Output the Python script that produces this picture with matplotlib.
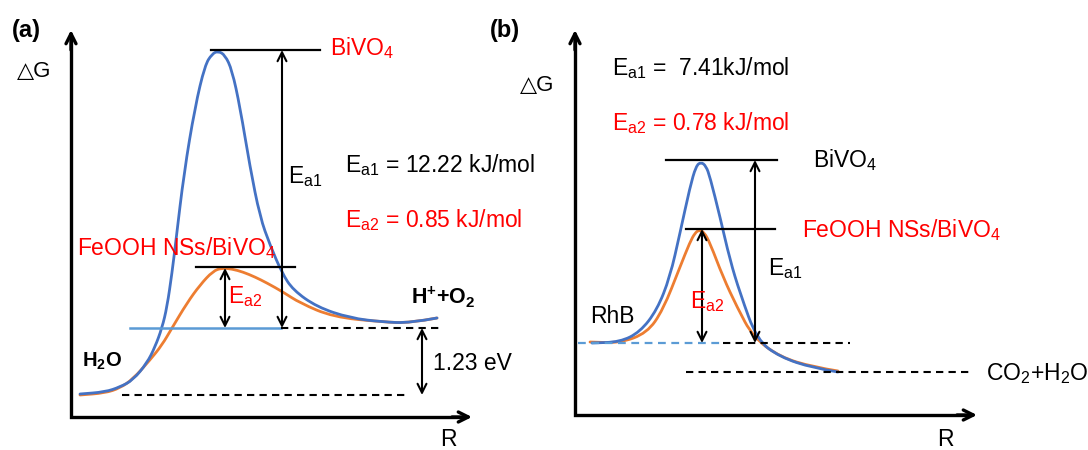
import matplotlib
matplotlib.use("Agg")
import matplotlib.pyplot as plt
from matplotlib.path import Path
from matplotlib.patches import PathPatch

plt.rcParams['font.family'] = ['Liberation Sans', 'DejaVu Sans']
plt.rcParams['mathtext.fontset'] = 'custom'
plt.rcParams['mathtext.rm'] = 'Liberation Sans'
plt.rcParams['mathtext.it'] = 'Liberation Sans:italic'
plt.rcParams['mathtext.bf'] = 'Liberation Sans:bold'

BLUE = '#4472C4'
ORANGE = '#ED7D31'
LIGHTBLUE = '#5B9BD5'
RED = '#FF0000'

# ---- panel (a) curves (pixel coords, y down) ----
a_blue_x = [80, 105, 120, 133, 147, 155, 162, 167, 172, 176, 184, 195, 205,
            212, 218, 225, 232, 240, 250, 260, 270, 282, 293, 317, 350, 383,
            410, 437]
a_blue_y = [394, 392, 387, 380, 363, 347, 328, 307, 273, 240, 173, 107, 65,
            54, 51, 55, 70, 107, 167, 217, 245, 273, 290, 307, 318, 322,
            323, 318]
a_orange_x = [80, 105, 120, 133, 150, 162, 172, 187, 200, 213, 222, 232, 243,
              255, 267, 283, 300, 333, 383, 410, 437]
a_orange_y = [395, 393, 388, 379, 360, 345, 328, 303, 285, 271, 268, 269, 272,
              277, 283, 292, 303, 317, 322, 323, 318]

# ---- panel (b) curves ----
b_blue_x = [592, 620, 640, 657, 670, 680, 690, 696, 701, 706, 710, 720, 730,
            740, 757, 780, 813, 838]
b_blue_y = [343, 342, 332, 310, 277, 233, 187, 166, 162, 166, 177, 217, 260,
            293, 340, 357, 368, 372]
b_orange_x = [590, 620, 647, 663, 680, 690, 695, 699, 704, 710, 723, 737, 753,
              780, 813, 838]
b_orange_y = [342, 343, 333, 310, 267, 242, 233, 230, 232, 243, 277, 307, 337,
              357, 367, 371]

# energy levels (a)
a_top, a_mid, a_base, a_low = 50, 267, 328, 395
# energy levels (b)
b_top, b_mid, b_base, b_low = 160, 229, 343, 372


def smooth_curve(ax, xs, ys, color):
    pts = list(zip(xs, ys))
    verts = [pts[0]]
    codes = [Path.MOVETO]
    mid = ((pts[0][0] + pts[1][0]) / 2, (pts[0][1] + pts[1][1]) / 2)
    verts.append(mid)
    codes.append(Path.LINETO)
    for i in range(1, len(pts) - 1):
        nxt = ((pts[i][0] + pts[i + 1][0]) / 2, (pts[i][1] + pts[i + 1][1]) / 2)
        if i == len(pts) - 2:
            nxt = pts[-1]
        verts += [pts[i], nxt]
        codes += [Path.CURVE3, Path.CURVE3]
    ax.add_patch(PathPatch(Path(verts, codes), facecolor='none',
                           edgecolor=color, lw=2.0, capstyle='round'))


def darrow(ax, x, y0, y1):
    ax.annotate('', xy=(x, y0), xytext=(x, y1),
                arrowprops=dict(arrowstyle='<->', lw=1.5, color='black',
                                shrinkA=0, shrinkB=0, mutation_scale=16))


def axes_arrows(ax, x0, y0, xend, ytop):
    ax.plot([x0, x0, xend - 8], [ytop + 8, y0, y0], color='black', lw=2.4,
            solid_joinstyle='miter', solid_capstyle='butt')
    ax.annotate('', xy=(x0, ytop), xytext=(x0, ytop + 20),
                arrowprops=dict(arrowstyle='->', lw=2.4, color='black',
                                shrinkA=0, shrinkB=0, mutation_scale=18))
    ax.annotate('', xy=(xend, y0), xytext=(xend - 20, y0),
                arrowprops=dict(arrowstyle='->', lw=2.4, color='black',
                                shrinkA=0, shrinkB=0, mutation_scale=18))


fig = plt.figure(figsize=(10.88, 4.5), dpi=100)
ax = fig.add_axes([0, 0, 1, 1])
ax.set_xlim(0, 1088)
ax.set_ylim(450, 0)
ax.axis('off')

dash = (0, (3.5, 2.5))
fs = 16.5

# ================= panel (a) =================
axes_arrows(ax, 71, 417, 472, 30)

ax.plot([122, 408], [a_low, a_low], color='black', lw=1.5, ls=dash)
ax.plot([130, 281], [a_base, a_base], color=LIGHTBLUE, lw=1.8)
ax.plot([281, 442], [a_base, a_base], color='black', lw=1.5, ls=dash)
ax.plot([211, 320], [a_top, a_top], color='black', lw=1.6)
ax.plot([196, 295], [a_mid, a_mid], color='black', lw=1.6)

smooth_curve(ax, a_orange_x, a_orange_y, ORANGE)
smooth_curve(ax, a_blue_x, a_blue_y, BLUE)

darrow(ax, 282, a_top, a_base)
darrow(ax, 225, a_mid + 1, a_base)
darrow(ax, 422, a_base, a_low)

ax.text(12, 37, '(a)', fontsize=17, fontweight='bold')
ax.text(17, 77, '△G', fontsize=16)
ax.text(330, 55, r'BiVO$_4$', fontsize=fs, color=RED)
ax.text(345, 172, r'E$_{\mathrm{a1}}$ = 12.22 kJ/mol', fontsize=fs)
ax.text(345, 227, r'E$_{\mathrm{a2}}$ = 0.85 kJ/mol', fontsize=fs, color=RED)
ax.text(288, 183, r'E$_{\mathrm{a1}}$', fontsize=fs)
ax.text(77, 255, r'FeOOH NSs/BiVO$_4$', fontsize=fs, color=RED)
ax.text(228, 303, r'E$_{\mathrm{a2}}$', fontsize=fs, color=RED)
ax.text(82, 367, r'H$_{\mathbf{2}}$O', fontsize=14.5, fontweight='bold')
ax.text(411, 304, r'H$^{\mathbf{+}}$+O$_{\mathbf{2}}$', fontsize=15.5,
        fontweight='bold')
ax.text(433, 370, '1.23 eV', fontsize=fs)
ax.text(440, 446, 'R', fontsize=fs)

# ================= panel (b) =================
axes_arrows(ax, 575, 415, 977, 30)

ax.plot([578, 723], [b_base, b_base], color=LIGHTBLUE, lw=1.6, ls=dash)
ax.plot([723, 850], [b_base, b_base], color='black', lw=1.5, ls=dash)
ax.plot([686, 970], [b_low, b_low], color='black', lw=1.5, ls=dash)
ax.plot([666, 777], [b_top, b_top], color='black', lw=1.6)
ax.plot([686, 775], [b_mid, b_mid], color='black', lw=1.6)

smooth_curve(ax, b_orange_x, b_orange_y, ORANGE)
smooth_curve(ax, b_blue_x, b_blue_y, BLUE)

darrow(ax, 755, b_top, b_base)
darrow(ax, 702, b_mid, b_base)

ax.text(490, 37, '(b)', fontsize=17, fontweight='bold')
ax.text(520, 91, '△G', fontsize=16)
ax.text(612, 75, r'E$_{\mathrm{a1}}$ =  7.41kJ/mol', fontsize=fs)
ax.text(612, 130, r'E$_{\mathrm{a2}}$ = 0.78 kJ/mol', fontsize=fs, color=RED)
ax.text(813, 167, r'BiVO$_4$', fontsize=fs)
ax.text(802, 237, r'FeOOH NSs/BiVO$_4$', fontsize=fs, color=RED)
ax.text(768, 275, r'E$_{\mathrm{a1}}$', fontsize=fs)
ax.text(690, 308, r'E$_{\mathrm{a2}}$', fontsize=fs, color=RED)
ax.text(590, 323, 'RhB', fontsize=fs)
ax.text(986, 380, r'CO$_2$+H$_2$O', fontsize=fs)
ax.text(937, 446, 'R', fontsize=fs)

fig.savefig('out.png', dpi=100)
